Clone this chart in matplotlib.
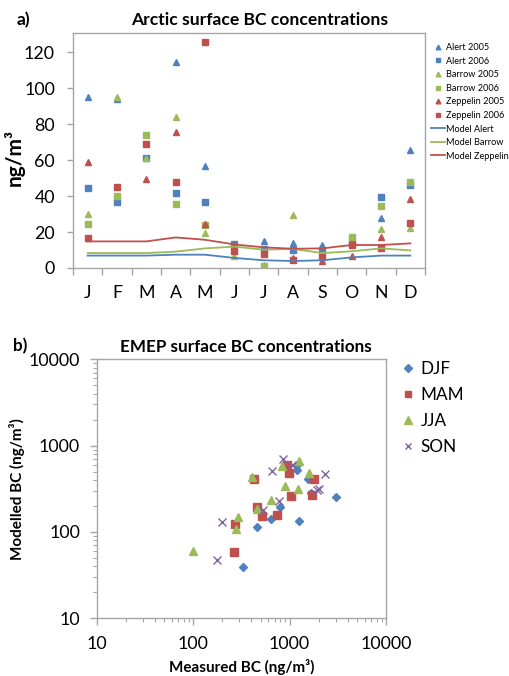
import numpy as np
import matplotlib
matplotlib.use("Agg")
import matplotlib.pyplot as plt
from matplotlib.ticker import LogLocator, NullFormatter, FixedLocator

plt.rcParams['font.family'] = ['Lato', 'DejaVu Sans']

# ---------------- Data: panel a ----------------
months = ['J', 'F', 'M', 'A', 'M', 'J', 'J', 'A', 'S', 'O', 'N', 'D']
nan = np.nan
alert_2005 = [95.2, 94.0, nan, 114.6, 56.7, nan, 14.8, 13.9, 12.6, 15.2, 27.8, 65.4]
alert_2006 = [44.3, 36.9, 61.1, 41.9, 36.9, 13.5, 10.6, 9.8, 9.8, 14.0, 39.4, 45.9]
barrow_2005 = [30.2, 95.2, 61.0, 83.9, 19.3, 6.7, 1.9, 29.6, nan, nan, 21.7, 22.2]
barrow_2006 = [24.3, 40.0, 73.7, 35.7, 24.0, nan, 0.9, nan, nan, 17.2, 34.3, 47.8]
zeppelin_2005 = [59.1, nan, 49.6, 75.6, 24.3, 13.0, 9.0, 5.5, 3.7, 6.9, 17.4, 38.3]
zeppelin_2006 = [16.5, 45.2, 69.1, 47.6, 125.9, 9.3, 8.0, 4.4, 5.9, 12.8, 10.9, 25.0]
model_alert = [6.9, 6.9, 6.9, 7.4, 7.4, 5.6, 4.3, 3.9, 4.3, 5.9, 6.9, 6.9]
model_barrow = [8.3, 8.3, 8.3, 9.1, 10.9, 11.9, 10.2, 10.6, 8.3, 9.3, 10.9, 9.8]
model_zeppelin = [14.8, 14.8, 14.8, 17.0, 15.7, 13.1, 11.5, 10.7, 10.9, 12.8, 12.8, 13.7]

# ---------------- Data: panel b ----------------
djf_meas = [327, 463, 642, 796, 1195, 1186, 1554, 1670, 1264, 3010]
djf_mod = [39.7, 113, 143, 195, 523, 597, 411, 286, 135, 252]
mam_meas = [265, 272, 428, 456, 514, 736, 949, 995, 1036, 1697, 1808]
mam_mod = [59.2, 124, 411, 197, 153, 159, 597, 487, 264, 268, 411]
jja_meas = [99, 276, 294, 411, 456, 637, 842, 891, 1234, 1253, 1604]
jja_mod = [60.2, 108, 151, 430, 185, 235, 581, 344, 312, 670, 478]
son_meas = [175, 201, 535, 663, 784, 849, 1052, 1911, 2037, 2333]
son_mod = [47.4, 132, 180, 513, 229, 701, 597, 306, 312, 470]

BLUE = '#4F81BD'
RED = '#C0504D'
GREEN = '#9BBB59'
PURPLE = '#8064A2'
SPINE = '#A6A6A6'

W, H = 509, 676
fig = plt.figure(figsize=(W / 100, H / 100), dpi=100)

def fr(l, t, r, b):
    return [l / W, 1 - b / H, (r - l) / W, (b - t) / H]

TICK_FS = 12.8

# ---------------- Panel a ----------------
ax = fig.add_axes(fr(73, 33, 425, 268))
x = np.arange(1, 13)
ms_t, ms_s = 4.2, 4.0
ax.plot(x, alert_2005, '^', color=BLUE, ms=ms_t, ls='none', label='Alert 2005')
ax.plot(x, alert_2006, 's', color=BLUE, ms=ms_s, ls='none', label='Alert 2006')
ax.plot(x, barrow_2005, '^', color=GREEN, ms=ms_t, ls='none', label='Barrow 2005')
ax.plot(x, barrow_2006, 's', color=GREEN, ms=ms_s, ls='none', label='Barrow 2006')
ax.plot(x, zeppelin_2005, '^', color=RED, ms=ms_t, ls='none', label='Zeppelin 2005')
ax.plot(x, zeppelin_2006, 's', color=RED, ms=ms_s, ls='none', label='Zeppelin 2006')
ax.plot(x, model_alert, '-', color=BLUE, lw=1.3, label='Model Alert')
ax.plot(x, model_barrow, '-', color=GREEN, lw=1.3, label='Model Barrow')
ax.plot(x, model_zeppelin, '-', color=RED, lw=1.3, label='Model Zeppelin')

ax.set_xlim(0.5, 12.5)
ax.set_ylim(0, 130.7)
ax.set_yticks(np.arange(0, 121, 20))
ax.xaxis.set_major_locator(FixedLocator(np.arange(0.5, 12.6, 1)))
ax.xaxis.set_major_formatter(NullFormatter())
ax.xaxis.set_minor_locator(FixedLocator(x))
ax.set_xticklabels(months, minor=True)
ax.tick_params(axis='x', which='major', direction='out', length=5, color=SPINE, width=1)
ax.tick_params(axis='x', which='minor', length=0, pad=12, labelsize=TICK_FS)
ax.tick_params(axis='y', direction='out', length=4, color=SPINE, width=1, pad=9, labelsize=TICK_FS)
for s in ax.spines.values():
    s.set_color(SPINE)
    s.set_linewidth(1)
ax.set_ylabel('ng/m³', fontsize=15, fontweight='bold')
ax.yaxis.set_label_coords(-(73 - 25) / 352, 0.47)
fig.text(260 / W, 1 - 20 / H, 'Arctic surface BC concentrations', ha='center', va='center',
         fontsize=12.6, fontweight='bold')
fig.text(17 / W, 1 - 20 / H, 'a)', ha='left', va='center', fontsize=12.6, fontweight='bold')
fig.legend(*ax.get_legend_handles_labels(), loc='upper left',
           bbox_to_anchor=(431 / W, 1 - 43 / H), frameon=False, fontsize=6.6,
           handlelength=1.5, handletextpad=0.1, labelspacing=0.5, borderpad=0, borderaxespad=0,
           markerscale=0.8)

# ---------------- Panel b ----------------
bx = fig.add_axes(fr(96.7, 359.3, 386, 618.3))
bx.set_xscale('log')
bx.set_yscale('log')
bx.plot(djf_meas, djf_mod, 'D', color=BLUE, ms=4.3, ls='none', label='DJF')
bx.plot(mam_meas, mam_mod, 's', color=RED, ms=5.5, ls='none', label='MAM')
bx.plot(jja_meas, jja_mod, '^', color=GREEN, ms=6, ls='none', label='JJA')
bx.plot(son_meas, son_mod, 'x', color=PURPLE, ms=5.5, mew=1, ls='none', label='SON')
bx.set_xlim(10, 10000)
bx.set_ylim(10, 10000)
for a_ in (bx.xaxis, bx.yaxis):
    a_.set_major_locator(LogLocator(base=10, numticks=10))
    a_.set_minor_locator(LogLocator(base=10, subs=np.arange(2, 10), numticks=10))
    a_.set_minor_formatter(NullFormatter())
bx.set_xticks([10, 100, 1000, 10000])
bx.set_xticklabels(['10', '100', '1000', '10000'])
bx.set_yticks([10, 100, 1000, 10000])
bx.set_yticklabels(['10', '100', '1000', '10000'])
bx.tick_params(which='major', direction='out', length=5, color=SPINE, width=1, labelsize=TICK_FS)
bx.tick_params(which='minor', direction='out', length=3, color=SPINE, width=0.8)
bx.tick_params(axis='x', which='major', pad=8)
bx.tick_params(axis='y', which='major', pad=7)
for s in bx.spines.values():
    s.set_color(SPINE)
    s.set_linewidth(1)
bx.set_xlabel('Measured BC (ng/m³)', fontsize=11, fontweight='bold')
bx.xaxis.set_label_coords((241.7 - 96.7) / 289.3, -(659 - 618.3) / 259)
bx.set_ylabel('Modelled BC (ng/m³)', fontsize=11, fontweight='bold')
bx.yaxis.set_label_coords(-(96.7 - 25) / 289.3, (618.3 - 489) / 259)
fig.text(246 / W, 1 - 346.7 / H, 'EMEP surface BC concentrations', ha='center', va='center',
         fontsize=12.3, fontweight='bold')
fig.text(13 / W, 1 - 346 / H, 'b)', ha='left', va='center', fontsize=12.3, fontweight='bold')
fig.legend(*bx.get_legend_handles_labels(), loc='upper left',
           bbox_to_anchor=(401 / W, 1 - 361 / H), frameon=False, fontsize=12.3,
           handlelength=0.8, handletextpad=0.35, labelspacing=0.58, borderpad=0, borderaxespad=0,
           markerscale=0.85)

fig.savefig('out.png', dpi=100)
